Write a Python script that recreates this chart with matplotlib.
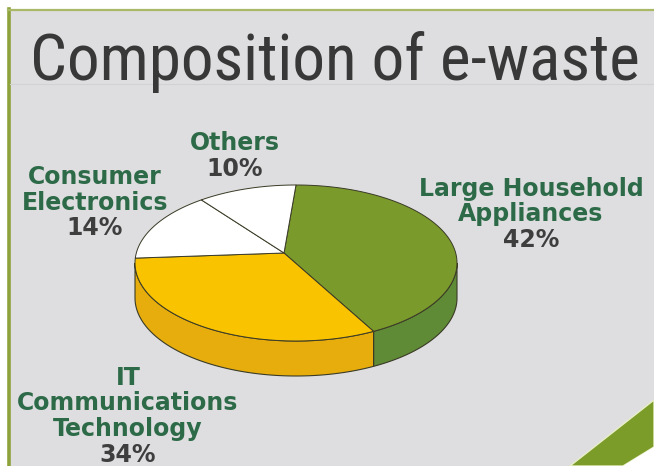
import matplotlib
matplotlib.use("Agg")
import matplotlib.pyplot as plt
import numpy as np
from matplotlib.patches import Polygon, Rectangle

# data
categories = ["Large Household\nAppliances", "IT\nCommunications\nTechnology",
              "Consumer\nElectronics", "Others"]
shares = [42, 34, 14, 10]

# styling / layout
top_colors = ["#7b9a2c", "#f9c300", "#ffffff", "#ffffff"]
side_colors = ["#5f8a36", "#e6ad0c", "#e8e8e8", "#e8e8e8"]
label_pos = [(531, 189), (128, 378), (95, 177), (235, 143)]
line_step = 25.5
label_green = "#2d6a48"
pct_gray = "#3e3e3e"
title_fonts = ["Roboto Condensed", "Barlow Condensed", "Asap Condensed", "DejaVu Sans"]

cx, cy, rx, ry, depth = 296, 263, 161, 78, 35
apex = (284, 253)


def rim(t, dy=0.0):
    t = np.radians(t)
    return np.column_stack([cx + rx * np.cos(t), cy - ry * np.sin(t) + dy])


def main() -> None:
    fig = plt.figure(figsize=(6.54, 4.66), dpi=100, facecolor="white")
    ax = fig.add_axes([0, 0, 1, 1])
    ax.set_xlim(0, 654)
    ax.set_ylim(466, 0)
    ax.axis("off")

    # panel background and frame
    ax.add_patch(Rectangle((8, 9), 660, 470, facecolor="#dedee0", edgecolor="none", zorder=0))
    ax.plot([8.5, 8.5], [9, 466], color="#8ea23c", lw=2.6, zorder=1)
    ax.plot([8, 654], [9.5, 9.5], color="#a9b968", lw=1.6, zorder=1)
    ax.plot([10, 654], [84, 84], color="#d2d2d5", lw=0.8, zorder=1)

    # corner stripe
    ax.add_patch(Polygon([(570, 466), (654, 400), (654, 447), (623, 466)],
                         closed=True, facecolor="#7c9c2a", edgecolor="#e8efc8", lw=1.0, zorder=1))
    ax.add_patch(Polygon([(623, 466), (654, 447), (654, 466)],
                         closed=True, facecolor="white", edgecolor="none", zorder=1))

    ax.text(335, 80, "Composition of e-waste", ha="center", va="baseline",
            fontsize=47, color="#383838", family=title_fonts, zorder=5)

    fracs = np.array(shares, dtype=float) / np.sum(shares)
    bounds = 90 - np.concatenate([[0], np.cumsum(fracs)]) * 360

    # side walls (front half only)
    for i in range(len(shares)):
        a0, a1 = bounds[i], bounds[i + 1]
        for shift in (-360, 0, 360):
            hi = min(a0 + shift, 0)
            lo = max(a1 + shift, -180)
            if lo >= hi:
                continue
            t = np.linspace(hi, lo, 80)
            pts = np.vstack([rim(t), rim(t[::-1], depth)])
            ax.add_patch(Polygon(pts, closed=True, facecolor=side_colors[i],
                                 edgecolor="#3a3a26", lw=0.8, zorder=2))

    # top faces
    for i in range(len(shares)):
        t = np.linspace(bounds[i], bounds[i + 1], 120)
        pts = np.vstack([[apex], rim(t)])
        ax.add_patch(Polygon(pts, closed=True, facecolor=top_colors[i],
                             edgecolor="#3a3a26", lw=0.7, zorder=3))

    # labels
    for name, val, (x, y) in zip(categories, shares, label_pos):
        lines = name.split("\n")
        for k, line in enumerate(lines):
            ax.text(x, y + k * line_step, line, ha="center", va="center",
                    fontsize=17, fontweight="bold", color=label_green, zorder=5)
        ax.text(x, y + len(lines) * line_step, f"{val}%", ha="center", va="center",
                fontsize=17, fontweight="bold", color=pct_gray, zorder=5)

    fig.savefig("out.png", dpi=100, facecolor=fig.get_facecolor())
    plt.close(fig)


if __name__ == "__main__":
    main()
